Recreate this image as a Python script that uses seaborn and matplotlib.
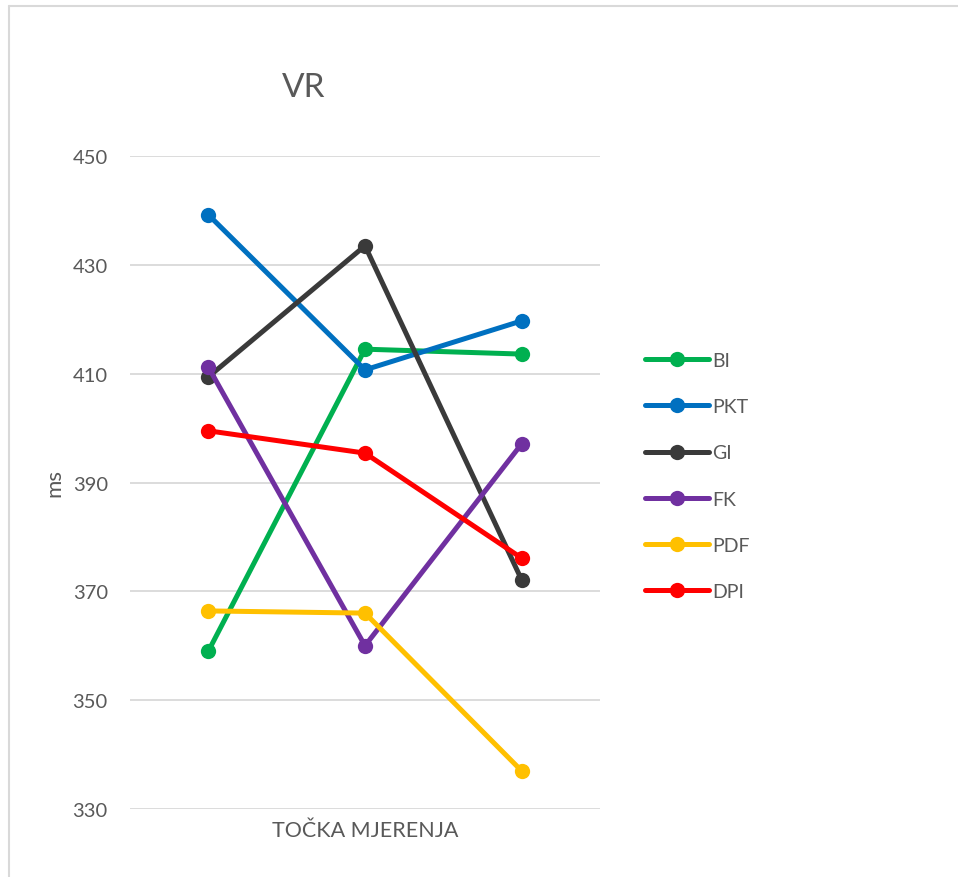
import numpy as np
import pandas as pd
import matplotlib
matplotlib.use("Agg")
import matplotlib.pyplot as plt
from matplotlib.lines import Line2D
import seaborn as sns

# podaci očitani s grafa (VR, ms)
tocke = ["1", "2", "3"]
skupine = ["BI", "PKT", "GI", "FK", "PDF", "DPI"]
bi = [359.0, 414.5, 413.6]
pkt = [439.2, 410.7, 419.7]
gi = [409.4, 433.5, 372.1]
fk = [411.2, 360.0, 397.1]
pdf = [366.4, 366.0, 337.0]
dpi = [399.5, 395.4, 376.1]
boje = ["#00B050", "#0070C0", "#3A3A3A", "#7030A0", "#FFC000", "#FF0000"]

vrijednosti = [bi, pkt, gi, fk, pdf, dpi]
df = pd.DataFrame({
    "tocka": np.tile(tocke, len(skupine)),
    "skupina": np.repeat(skupine, len(tocke)),
    "ms": np.concatenate(vrijednosti),
})

sns.set_style("white")
plt.rcParams["font.family"] = ["Lato", "DejaVu Sans"]
tekst = "#595959"

fig = plt.figure(figsize=(9.58, 8.78), dpi=100)
ax = fig.add_axes([130 / 958, 1 - 810 / 878, 470 / 958, 653 / 878])

sns.lineplot(data=df, x="tocka", y="ms", hue="skupina", hue_order=skupine,
             palette=boje, marker="o", markersize=11, markeredgewidth=0,
             linewidth=3.6, legend=False, ax=ax, sort=False)

ax.set_ylim(330, 450)
ax.set_yticks(np.arange(330, 451, 20))
ax.set_xlim(-0.5, 2.5)
ax.set_xticks([])
ax.grid(axis="y", color="#D9D9D9", linewidth=1.3)
ax.set_axisbelow(True)
for s in ax.spines.values():
    s.set_visible(False)
ax.tick_params(axis="y", length=0, pad=16, labelsize=14.5, labelcolor=tekst)

ax.set_xlabel("TOČKA MJERENJA", fontsize=15.5, color=tekst, labelpad=8)
ax.set_ylabel("ms", fontsize=16, color=tekst, labelpad=6)

fig.text(304 / 958, 1 - 88 / 878, "VR", fontsize=24, color=tekst,
         ha="center", va="center")

handles = ax.lines[:len(skupine)]
leg = fig.legend(handles, skupine, loc="center left",
                 bbox_to_anchor=(645 / 958, 1 - 477 / 878), frameon=False,
                 fontsize=14, labelspacing=1.5, handlelength=3.3,
                 handletextpad=0.15, borderpad=0, borderaxespad=0)
for t in leg.get_texts():
    t.set_color(tekst)

# rub okvira grafikona
fig.add_artist(Line2D([9 / 958, 1], [1 - 7 / 878, 1 - 7 / 878],
                      transform=fig.transFigure, color="#D9D9D9", linewidth=1.5))
fig.add_artist(Line2D([9 / 958, 9 / 958], [0, 1 - 7 / 878],
                      transform=fig.transFigure, color="#D9D9D9", linewidth=1.5))

fig.savefig("out.png", dpi=100, facecolor="white")
